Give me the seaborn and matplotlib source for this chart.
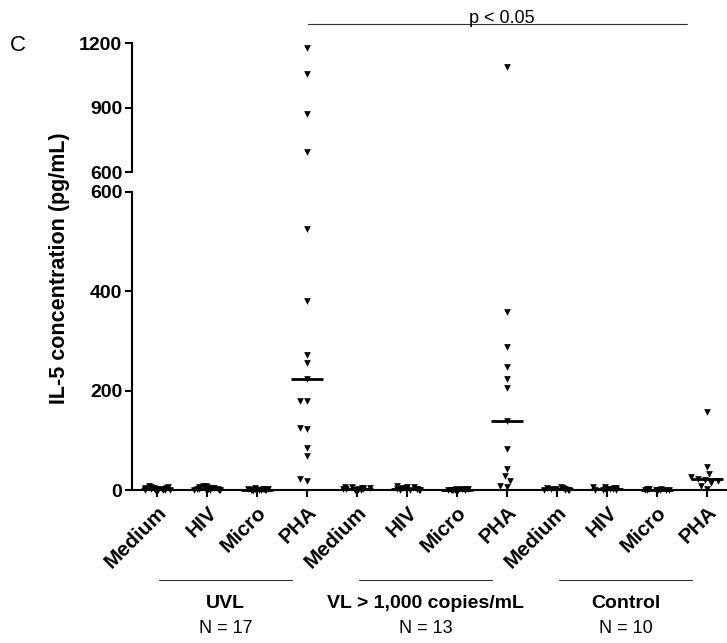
import numpy as np
import pandas as pd
import matplotlib
matplotlib.use("Agg")
import matplotlib.pyplot as plt
import seaborn as sns
from matplotlib.transforms import blended_transform_factory

# ---- data -------------------------------------------------------------
conditions = ["Medium", "HIV", "Micro", "PHA"]
groups = ["UVL", "VL > 1,000 copies/mL", "Control"]
group_n = [17, 13, 10]

# IL-5 (pg/mL) per stimulation condition
uvl_medium = [0, 0, 0, 0.5, 1, 1, 1.5, 2, 2, 2.5, 3, 3.5, 4, 5, 6, 7, 8]
uvl_hiv = [0, 0, 0.5, 1, 1, 1.5, 2, 2.5, 3, 3, 3.5, 4, 5, 6, 7, 8, 9]
uvl_micro = [0, 0, 0, 0, 0, 0, 0.5, 0.5, 1, 1, 1, 1.5, 2, 2, 2.5, 3, 4]
uvl_pha = [1177, 1056, 870, 693, 525, 380, 272, 256, 223, 179, 179,
           125, 123, 85, 68, 22, 18]

vl_medium = [0, 0, 0.5, 1, 1.5, 2, 2, 3, 3.5, 4, 5, 6, 7]
vl_hiv = [0, 0, 0.5, 1, 1.5, 2, 2.5, 3, 4, 5, 6, 7, 8]
vl_micro = [0, 0, 0, 0, 0, 0.5, 0.5, 1, 1, 1.5, 2, 2.5, 3]
vl_pha = [1090, 358, 288, 248, 223, 205, 139, 83, 42, 28, 18, 8, 6]

ctl_medium = [0, 0.5, 1, 1, 1.5, 2, 3, 4, 5, 6]
ctl_hiv = [0, 0.5, 1, 1.5, 2, 3, 4, 5, 6, 7]
ctl_micro = [0, 0, 0, 0, 0.5, 0.5, 1, 1.5, 2, 2.5]
ctl_pha = [157, 46, 32, 26, 23, 21, 18, 14, 8, 3]

series = [
    [uvl_medium, uvl_hiv, uvl_micro, uvl_pha],
    [vl_medium, vl_hiv, vl_micro, vl_pha],
    [ctl_medium, ctl_hiv, ctl_micro, ctl_pha],
]

rows = []
order = []
for g, name in enumerate(groups):
    for c, cond in enumerate(conditions):
        slot = f"{name}|{cond}"
        order.append(slot)
        for v in series[g][c]:
            rows.append({"slot": slot, "cond": cond, "value": v})
df = pd.DataFrame(rows)

BREAK = 600

# ---- styling ----------------------------------------------------------
sns.set_style("ticks")
plt.rcParams["font.family"] = ["Liberation Sans", "DejaVu Sans"]
plt.rcParams.update({
    "axes.linewidth": 1.5,
    "axes.edgecolor": "black",
    "text.color": "black",
    "axes.labelcolor": "black",
    "xtick.color": "black",
    "ytick.color": "black",
})

fig = plt.figure(figsize=(7.27, 6.43), dpi=100)
ax_top = fig.add_axes([0.1816, 0.7325, 0.8184, 0.2006])
ax_bot = fig.add_axes([0.1816, 0.2379, 0.8184, 0.4635])

marker_kw = dict(x="slot", y="value", order=order, color="black",
                 marker="v", size=4.8, linewidth=0)

# unstimulated / antigen columns sit on the baseline: jittered strips
np.random.seed(7)
sns.stripplot(data=df[df["cond"] != "PHA"], jitter=0.28, ax=ax_bot,
              **marker_kw)

# PHA columns: beeswarm on each side of the axis break
pha = df[df["cond"] == "PHA"]
sns.swarmplot(data=pha[pha["value"] <= BREAK], ax=ax_bot, **marker_kw)
sns.swarmplot(data=pha[pha["value"] > BREAK], ax=ax_top, **marker_kw)

# median bars
medians = df.groupby("slot")["value"].median()
for i, slot in enumerate(order):
    m = medians[slot]
    ax = ax_top if m > BREAK else ax_bot
    ax.hlines(m, i - 0.32, i + 0.32, color="black", lw=2, zorder=3,
              clip_on=False)

for ax in (ax_top, ax_bot):
    for coll in ax.collections:
        coll.set_clip_on(False)
    ax.set_xlim(-0.5, 11.4)
    ax.set_xlabel("")
    ax.set_ylabel("")
    ax.tick_params(axis="y", length=5, width=1.5, pad=2, labelsize=14)

# upper panel of the broken axis
ax_top.set_ylim(BREAK, 1200)
ax_top.set_yticks([600, 900, 1200])
ax_top.xaxis.set_visible(False)
for s in ("top", "right", "bottom"):
    ax_top.spines[s].set_visible(False)

# lower panel
ax_bot.set_ylim(0, BREAK)
ax_bot.set_yticks([0, 200, 400, 600])
for s in ("top", "right"):
    ax_bot.spines[s].set_visible(False)
ax_bot.set_xticks(range(len(order)))
ax_bot.set_xticklabels(conditions * len(groups), rotation=45, ha="right",
                       rotation_mode="anchor", fontweight="bold",
                       fontsize=15)
ax_bot.tick_params(axis="x", length=5, width=1.5, pad=4)

for ax in (ax_top, ax_bot):
    for lbl in ax.get_yticklabels():
        lbl.set_fontweight("bold")

# y-axis title and panel letter
fig.text(0.082, 0.583, "IL-5 concentration (pg/mL)", rotation=90,
         ha="center", va="center", fontsize=15.5, fontweight="bold")
fig.text(0.014, 0.93, "C", ha="left", va="center", fontsize=16)

# group brackets under the axis
tr = blended_transform_factory(ax_bot.transData, fig.transFigure)
for g, (name, n) in enumerate(zip(groups, group_n)):
    x0, x1 = 4 * g + 0.04, 4 * g + 2.7
    xc = (x0 + x1) / 2
    ax_bot.plot([x0, x1], [0.098, 0.098], transform=tr, color="#333333",
                lw=0.8, clip_on=False)
    ax_bot.text(xc, 0.062, name, transform=tr, ha="center", va="center",
                fontsize=14, fontweight="bold")
    ax_bot.text(xc, 0.022, f"N = {n}", transform=tr, ha="center",
                va="center", fontsize=13)

# significance bar across the PHA columns
ax_bot.plot([3.02, 10.6], [0.9627, 0.9627], transform=tr, color="#333333",
            lw=0.8, clip_on=False)
ax_bot.text(6.9, 0.9640, "p < 0.05", transform=tr, ha="center",
            va="baseline", fontsize=13)

fig.savefig("out.png", dpi=100)
